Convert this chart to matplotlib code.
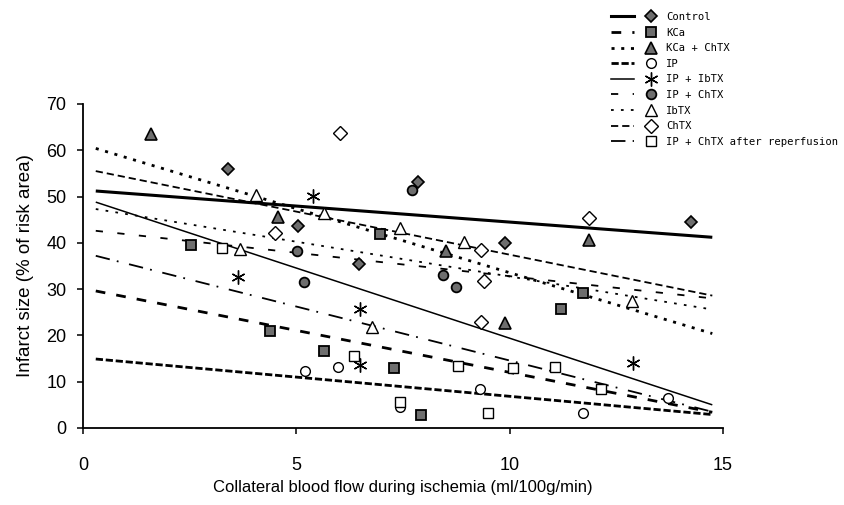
import matplotlib
matplotlib.use("Agg")
import matplotlib.pyplot as plt
from matplotlib.lines import Line2D
from matplotlib.legend_handler import HandlerTuple

# ---------------- data ----------------
labels = ["Control", "KCa", "KCa + ChTX", "IP", "IP + IbTX", "IP + ChTX",
          "IbTX", "ChTX", "IP + ChTX after reperfusion"]

control_x = [3.39, 5.03, 6.46, 7.86, 9.90, 14.25]
control_y = [55.9, 43.6, 35.5, 53.2, 39.9, 44.4]

kca_x = [2.54, 4.39, 5.64, 6.97, 7.28, 7.93, 11.20, 11.72]
kca_y = [39.6, 20.9, 16.6, 41.9, 13.0, 2.8, 25.6, 29.2]

kcachtx_x = [1.60, 4.58, 8.51, 9.90, 11.86]
kcachtx_y = [63.6, 45.5, 38.2, 22.7, 40.6]

ip_x = [5.21, 5.97, 7.44, 9.30, 11.72, 13.72]
ip_y = [12.4, 13.2, 4.5, 8.4, 3.2, 6.4]

ipibtx_x = [3.63, 5.38, 6.49, 6.49, 12.88]
ipibtx_y = [32.7, 50.1, 25.6, 13.6, 14.0]

ipchtx_x = [5.01, 5.19, 7.70, 8.43, 8.75]
ipchtx_y = [38.3, 31.5, 51.4, 33.0, 30.5]

ibtx_x = [3.69, 4.05, 5.65, 6.78, 7.44, 8.92, 12.86]
ibtx_y = [38.7, 50.3, 46.5, 21.9, 43.2, 40.2, 27.5]

chtx_x = [4.50, 6.03, 9.32, 9.32, 9.41, 11.86]
chtx_y = [42.2, 63.8, 38.4, 23.0, 31.7, 45.4]

ipre_x = [3.27, 6.36, 7.44, 8.80, 9.49, 10.08, 11.06, 12.13]
ipre_y = [38.9, 15.6, 5.6, 13.5, 3.3, 13.0, 13.1, 8.4]

# regression-line end values at fit_x
fit_x = [0.3, 14.75]
fit_y = {
    "Control":                      [51.2, 41.2],
    "KCa":                          [29.6, 3.4],
    "KCa + ChTX":                   [60.4, 20.4],
    "IP":                           [14.9, 2.9],
    "IP + IbTX":                    [48.8, 5.0],
    "IP + ChTX":                    [42.6, 28.0],
    "IbTX":                         [47.3, 25.6],
    "ChTX":                         [55.5, 28.6],
    "IP + ChTX after reperfusion":  [37.2, 3.5],
}

x_ticks = [0, 5, 10, 15]
y_ticks = [0, 10, 20, 30, 40, 50, 60, 70]

# ---------------- styles ----------------
gray = "#6e6e6e"
pts = {
    "Control": (control_x, control_y, dict(marker="D", ms=6.5, mfc=gray, mec="black", mew=1.2)),
    "KCa": (kca_x, kca_y, dict(marker="s", ms=6.5, mfc=gray, mec="black", mew=1.3)),
    "KCa + ChTX": (kcachtx_x, kcachtx_y, dict(marker="^", ms=8, mfc=gray, mec="black", mew=1.2)),
    "IP": (ip_x, ip_y, dict(marker="o", ms=7, mfc="white", mec="black", mew=1.0)),
    "IP + IbTX": (ipibtx_x, ipibtx_y, dict(marker=(6, 2, 0), ms=10, mfc="black", mec="black", mew=1.0)),
    "IP + ChTX": (ipchtx_x, ipchtx_y, dict(marker="o", ms=7, mfc=gray, mec="black", mew=1.3)),
    "IbTX": (ibtx_x, ibtx_y, dict(marker="^", ms=9, mfc="white", mec="black", mew=1.0)),
    "ChTX": (chtx_x, chtx_y, dict(marker="D", ms=7, mfc="white", mec="black", mew=1.0)),
    "IP + ChTX after reperfusion": (ipre_x, ipre_y, dict(marker="s", ms=7, mfc="white", mec="black", mew=1.0)),
}
line_styles = {
    "Control": dict(lw=2.2, ls="-"),
    "KCa": dict(lw=2.0, ls=(0, (3.5, 4))),
    "KCa + ChTX": dict(lw=2.0, ls=(0, (1.1, 2.4))),
    "IP": dict(lw=2.0, ls=(0, (2.6, 1.0))),
    "IP + IbTX": dict(lw=1.1, ls="-"),
    "IP + ChTX": dict(lw=1.3, ls=(0, (4, 8))),
    "IbTX": dict(lw=1.3, ls=(0, (1.5, 4))),
    "ChTX": dict(lw=1.3, ls=(0, (4, 2.2))),
    "IP + ChTX after reperfusion": dict(lw=1.3, ls=(0, (8, 4, 1, 6))),
}

# ---------------- figure ----------------
fig = plt.figure(figsize=(8.44, 5.05), dpi=100)
ax = fig.add_axes([0.0983, 0.1525, 0.7583, 0.6416])

handles = []
for lab in labels:
    px, py, mk = pts[lab]
    ax.plot(px, py, ls="none", zorder=3, **mk)
    ax.plot(fit_x, fit_y[lab], color="black", solid_capstyle="butt",
            dash_capstyle="butt", zorder=2, **line_styles[lab])
    lh = Line2D([], [], color="black", **line_styles[lab])
    mh = Line2D([], [], ls="none", **mk)
    handles.append((lh, mh))

ax.set_xlim(0, 15)
ax.set_ylim(0, 70)
ax.set_xticks(x_ticks)
ax.set_yticks(y_ticks)
for s in ["top", "right"]:
    ax.spines[s].set_visible(False)
for s in ["left", "bottom"]:
    ax.spines[s].set_linewidth(1.3)
ax.tick_params(axis="both", direction="out", length=4, width=1.1,
               labelsize=13)
ax.tick_params(axis="y", pad=8)
ax.tick_params(axis="x", pad=17)
for t in ax.get_xticklabels() + ax.get_yticklabels():
    t.set_fontfamily("Liberation Sans")
ax.set_xlabel("Collateral blood flow during ischemia (ml/100g/min)",
              fontsize=12, family="Liberation Sans", labelpad=4)
ax.set_ylabel("Infarct size (% of risk area)", fontsize=13.5,
              family="Liberation Sans", labelpad=9)

fig.legend(handles, labels, loc="upper left", bbox_to_anchor=(0.724, 0.976),
           frameon=False, borderpad=0, borderaxespad=0,
           handler_map={tuple: HandlerTuple(ndivide=None, pad=0.6)},
           handlelength=4.9, handletextpad=0.35, labelspacing=0.53,
           prop={"family": "DejaVu Sans Mono", "size": 7.6})

fig.savefig("out.png", dpi=100)
